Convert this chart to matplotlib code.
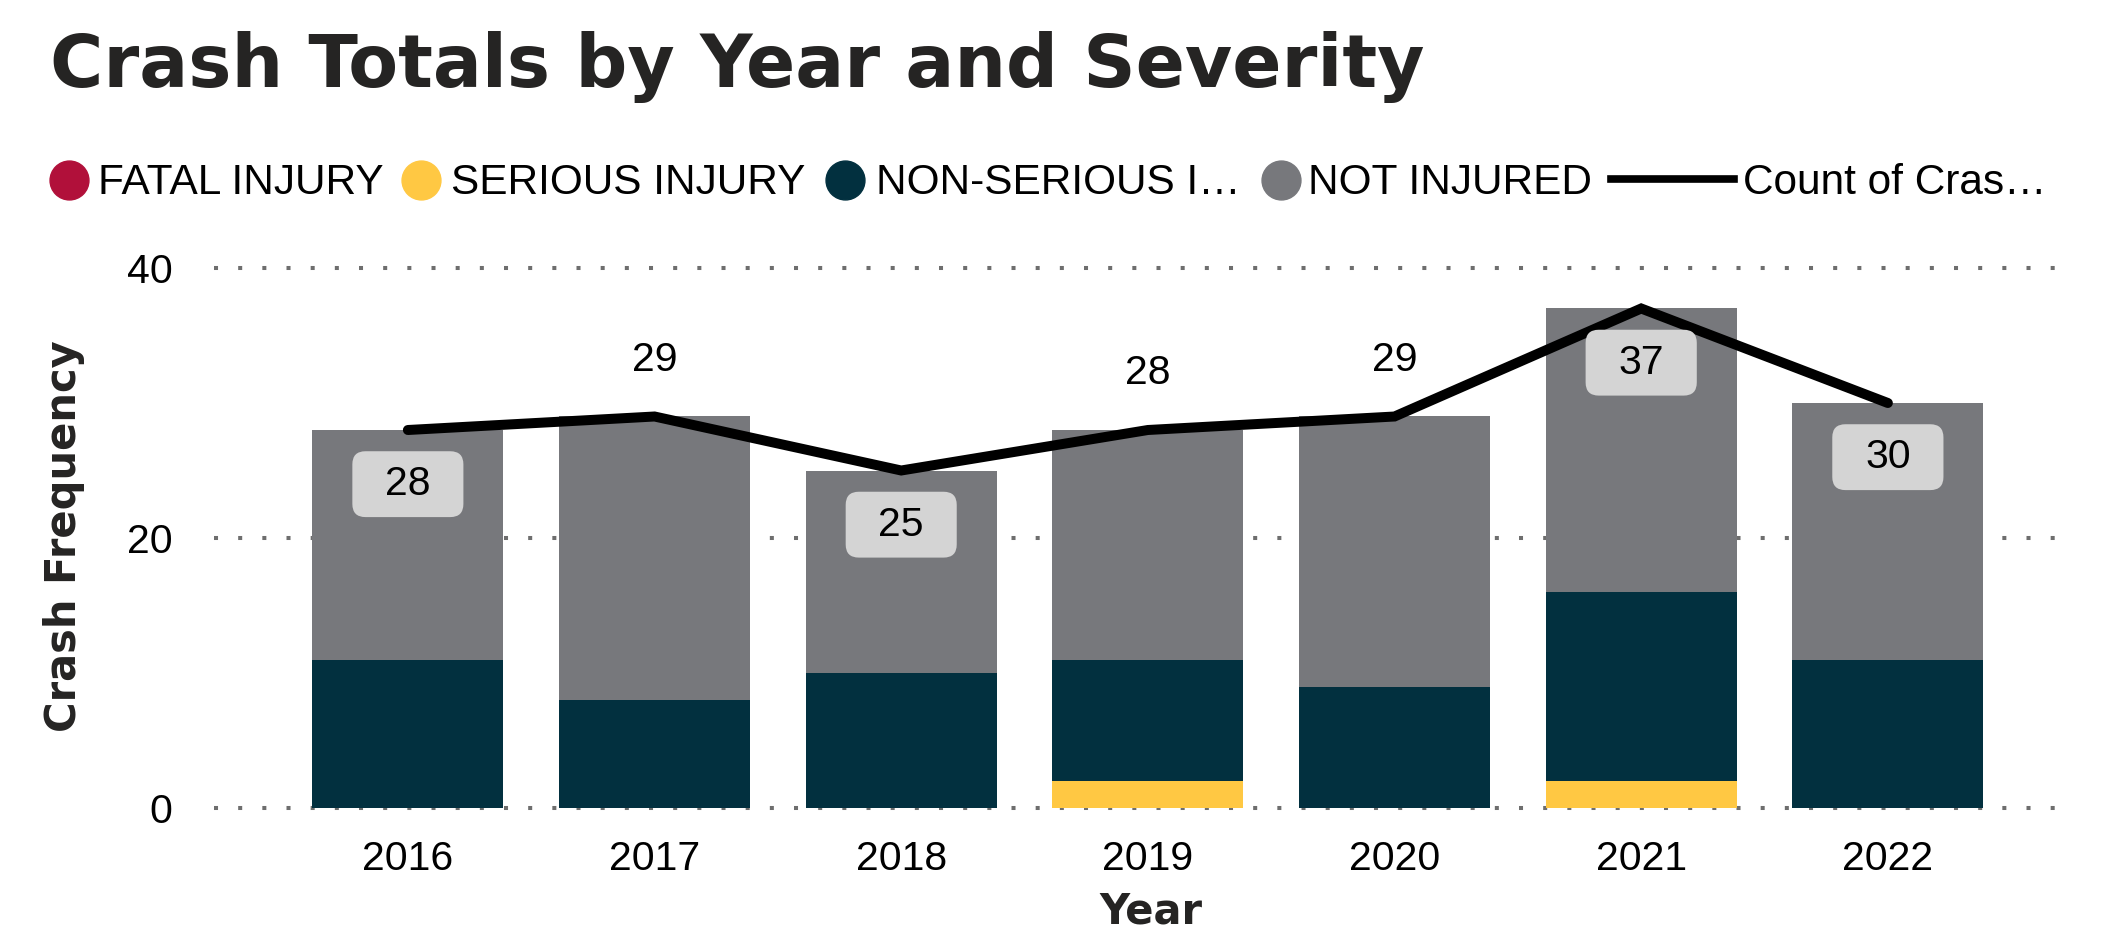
import matplotlib
matplotlib.use("Agg")
import matplotlib.pyplot as plt
from matplotlib.lines import Line2D
from matplotlib.patches import BoxStyle
import numpy as np

# ---------------- data ----------------
years = ["2016", "2017", "2018", "2019", "2020", "2021", "2022"]
fatal = [0, 0, 0, 0, 0, 0, 0]
serious = [0, 0, 0, 2, 0, 2, 0]
non_serious = [11, 8, 10, 9, 9, 14, 11]
not_injured = [17, 21, 15, 17, 20, 21, 19]
crash_count = [28, 29, 25, 28, 29, 37, 30]
label_above = [False, True, False, True, True, False, False]

series_names = ["FATAL INJURY", "SERIOUS INJURY", "NON-SERIOUS I\u2026", "NOT INJURED"]
line_name = "Count of Cras\u2026"
title = "Crash Totals by Year and Severity"
x_title = "Year"
y_title = "Crash Frequency"
y_ticks = [0, 20, 40]

# ---------------- style ----------------
colors = ["#B1103A", "#FFC843", "#02303F", "#77787C"]
dark = "#252423"
plt.rcParams["font.family"] = ["Liberation Sans", "DejaVu Sans"]

W, H, DPI = 2101, 951, 100
fig = plt.figure(figsize=(W / DPI, H / DPI), dpi=DPI)

def fx(px):
    return px / W

def fy(py):
    return 1 - py / H

# axes: y=0 at 808px, 1 unit = 13.5 px ; x from 214 to 2063 px
ylo, yhi = -0.2, 40.2
unit = 13.5
ax_bottom_px = 808 + (0 - ylo) * unit
ax_top_px = 808 - yhi * unit
ax = fig.add_axes([fx(214), fy(ax_bottom_px), fx(2063 - 214), (ax_bottom_px - ax_top_px) / H])

x = np.arange(len(years))
stack = [fatal, serious, non_serious, not_injured]
bottom = np.zeros(len(years))
for vals, c, name in zip(stack, colors, series_names):
    ax.bar(x, vals, bottom=bottom, width=0.775, color=c, zorder=2, label=name)
    bottom = bottom + np.array(vals)

ax.plot(x, crash_count, color="black", lw=7.2, solid_capstyle="round",
        solid_joinstyle="miter", zorder=3)


def label_box(x0, y0, width, height, mutation_size):
    padx = 0.8 * mutation_size
    pady = 0.34 * mutation_size
    return BoxStyle.Round(pad=0, rounding_size=0.32)(
        x0 - padx, y0 - pady, width + 2 * padx, height + 2 * pady, mutation_size)


for xi, v, above in zip(x, crash_count, label_above):
    if above:
        ax.annotate(str(v), (xi, v), xytext=(0, 41), textcoords="offset points",
                    ha="center", va="center", fontsize=29.5, color="black", zorder=5)
    else:
        ax.annotate(str(v), (xi, v), xytext=(0, -39), textcoords="offset points",
                    ha="center", va="center", fontsize=29.5, color="black", zorder=5,
                    bbox=dict(boxstyle=label_box, fc="#D4D4D4", ec="none"))

ax.set_xlim(-0.786, 6.71)
ax.set_ylim(ylo, yhi)
ax.set_xticks(x)
ax.set_xticklabels(years)
ax.set_yticks(y_ticks)
ax.tick_params(axis="both", length=0, labelsize=29.5, labelcolor="black")
ax.tick_params(axis="y", pad=30)
ax.tick_params(axis="x", pad=21)
ax.yaxis.grid(True, linestyle=(0, (1, 5)), color="#6E6E6E", lw=2.9)
ax.set_axisbelow(True)
for s in ax.spines.values():
    s.set_visible(False)

# axis titles
fig.text(fx(1151), fy(911), x_title, ha="center", va="center", fontsize=30,
         fontweight="bold", family="DejaVu Sans", color=dark)
fig.text(fx(64), fy(536), y_title, ha="center", va="center", rotation=90, fontsize=30,
         fontweight="bold", family="DejaVu Sans", color=dark)

# title
fig.text(fx(50), fy(87), title, ha="left", va="baseline", fontsize=52.3,
         fontweight="bold", family="DejaVu Sans", color=dark)

# legend (manual)
leg_y = 180
marker_x = [69, 421, 845, 1281]
text_x = [98, 451, 876, 1308]
for mx, tx, c, name in zip(marker_x, text_x, colors, series_names):
    fig.add_artist(Line2D([fx(mx)], [fy(leg_y)], marker="o", ms=28, color=c,
                          transform=fig.transFigure, lw=0))
    fig.text(fx(tx), fy(194), name, ha="left", va="baseline", fontsize=30.5,
             color="black")
fig.add_artist(Line2D([fx(1611), fx(1734)], [fy(leg_y - 1), fy(leg_y - 1)], color="black",
                      lw=5.5, transform=fig.transFigure))
fig.text(fx(1743), fy(194), line_name, ha="left", va="baseline", fontsize=30.5,
         color="black")

fig.savefig("out.png", dpi=DPI)
